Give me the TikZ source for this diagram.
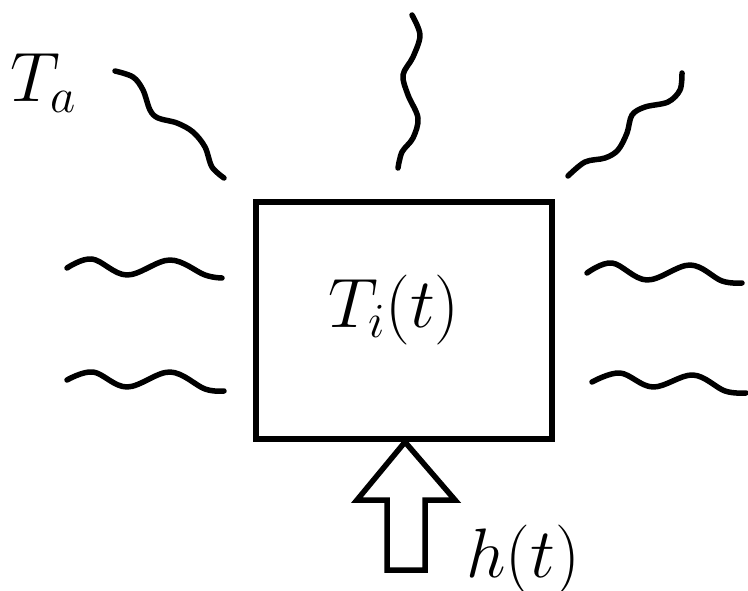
\RequirePackage{fix-cm}
\documentclass[tikz,border=0pt]{standalone}
\begin{document}
\begin{tikzpicture}[x=1pt,y=-1pt,
  wave/.style={line width=5.5pt,line cap=round,line join=round},
  boxline/.style={line width=5.5pt,line join=miter},
  lbl/.style={inner sep=0pt,font=\fontsize{70}{74}\selectfont}]
\useasboundingbox (0,0) rectangle (748,591);
% box
\draw[boxline] (256,202) rectangle (552,439);
\node[lbl,anchor=base] (Ti) at (394,327) {$T_i(t)$};
% heat arrow
\coordinate (tip) at (405,442);
\draw[boxline] (tip) -- (357,500) -- (387,500) -- (387,570) -- (425,570) -- (425,500) -- (455,500) -- cycle;
\node[lbl,anchor=base west] (h) at (466,577) {$h(t)$};
% ambient label
\node[lbl,anchor=base west] (Ta) at (10,102) {$T_a$};
% waves
\draw[wave] plot[smooth,tension=0.55] coordinates {(115,71) (133,77) (143,90) (150,110) (158,118) (177,123) (193,132) (205,147) (212,167) (224,178)};
\draw[wave] plot[smooth,tension=0.55] coordinates {(412,15) (420,35) (413,57) (403,75) (408,95) (418,118) (413,138) (402,152) (398,168)};
\draw[wave] plot[smooth,tension=0.55] coordinates {(682,73) (680,90) (668,102) (645,107) (632,115) (627,133) (618,150) (605,158) (585,162) (568,176)};
\draw[wave] plot[smooth,tension=0.6] coordinates {(67,268) (92,259) (127,275) (170,260) (205,275) (222,278)};
\draw[wave] plot[smooth,tension=0.6] coordinates {(67,380) (93,372) (127,387) (170,372) (205,389) (224,391)};
\draw[wave] plot[smooth,tension=0.6] coordinates {(587,273) (612,263) (647,280) (690,265) (722,281) (742,283)};
\draw[wave] plot[smooth,tension=0.6] coordinates {(592,382) (620,373) (653,387) (693,375) (725,391) (746,393)};
\end{tikzpicture}
\end{document}
